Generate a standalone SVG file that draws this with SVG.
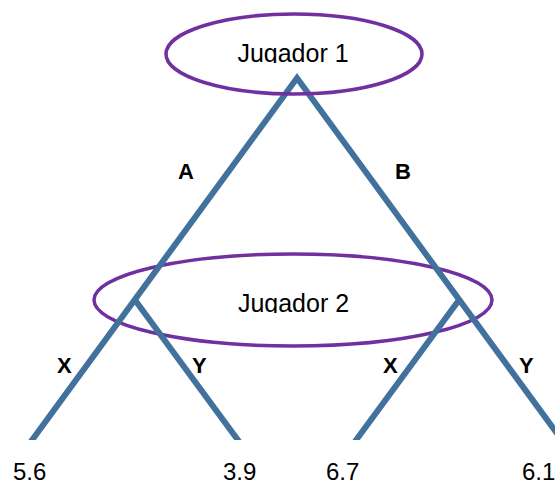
<svg xmlns="http://www.w3.org/2000/svg" width="555" height="481" viewBox="0 0 555 481">
  <style>
    .edge { fill: none; stroke: #41719C; stroke-width: 6; stroke-linejoin: miter; stroke-linecap: butt; }
    .player { fill: none; stroke: #7030A0; stroke-width: 3.5; }
    .ptext { font-family: "Liberation Sans", Arial, sans-serif; font-size: 25px; fill: #000; text-anchor: middle; }
    .lbl { font-family: "Liberation Sans", Arial, sans-serif; font-size: 22px; font-weight: bold; fill: #000; }
    .val { font-family: "Liberation Sans", Arial, sans-serif; font-size: 24px; fill: #000; }
  </style>
  <defs>
    <clipPath id="cut"><rect x="0" y="0" width="555" height="440"/></clipPath>
    <clipPath id="t1"><rect x="0" y="0" width="555" height="63"/></clipPath>
    <clipPath id="t2"><rect x="0" y="250" width="555" height="63"/></clipPath>
  </defs>
  <rect width="555" height="481" fill="#fff"/>

  <g id="player2">
    <ellipse class="player" cx="293" cy="300" rx="199" ry="46"/>
    <text class="ptext" x="293.5" y="312" clip-path="url(#t2)">Jugador 2</text>
  </g>

  <g id="connectors">
    <g clip-path="url(#cut)">
      <polyline class="edge" points="27,447 297,78 567,447"/>
      <polyline class="edge" points="135,300 243,447"/>
      <polyline class="edge" points="459,300 351,447"/>
    </g>
    <text class="lbl" x="178" y="179">A</text>
    <text class="lbl" x="395" y="179">B</text>
    <text class="lbl" x="57" y="373">X</text>
    <text class="lbl" x="192" y="373">Y</text>
    <text class="lbl" x="383" y="373">X</text>
    <text class="lbl" x="519" y="373">Y</text>
  </g>

  <g id="player1">
    <ellipse class="player" cx="294" cy="54" rx="128" ry="40"/>
    <text class="ptext" x="293" y="62" clip-path="url(#t1)">Jugador 1</text>
  </g>

  <g id="leaf-xa"><text class="val" x="13" y="480">5.6</text></g>
  <g id="leaf-ya"><text class="val" x="223" y="480">3.9</text></g>
  <g id="leaf-xb"><text class="val" x="326" y="480">6.7</text></g>
  <g id="leaf-yb"><text class="val" x="522" y="480">6.1</text></g>
</svg>
